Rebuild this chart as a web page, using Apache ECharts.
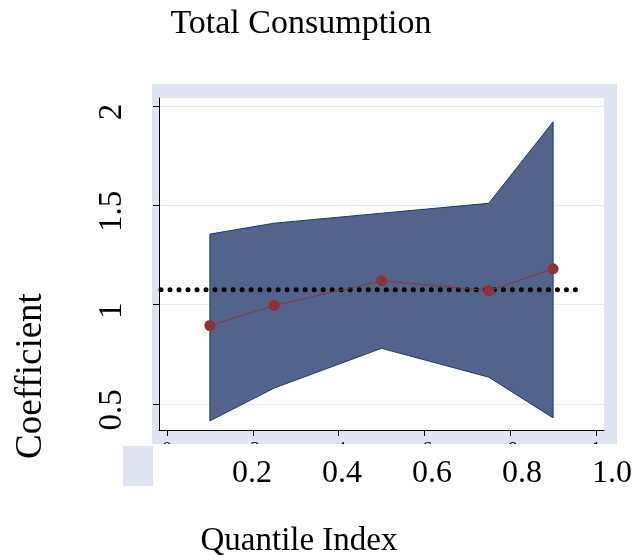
<!DOCTYPE html>
<html>
<head>
<meta charset="utf-8">
<script src="https://cdn.jsdelivr.net/npm/echarts@6/dist/echarts.min.js"></script>
<style>
  html, body { margin: 0; padding: 0; background: #fff; }
  #chart { width: 637px; height: 560px; }
</style>
</head>
<body>
<div id="chart"></div>
<script>
// quantiles and estimates
const quantiles = [0.1, 0.25, 0.5, 0.75, 0.9]
const coef = [0.895, 0.995, 1.12, 1.07, 1.18]
const upper = [1.355, 1.41, 1.46, 1.51, 1.92]
const lower = [0.415, 0.58, 0.78, 0.635, 0.43]
// OLS estimate (dotted line)
const olsX = [-0.035, 0.958]
const olsValue = 1.075
const yTicks = [0.5, 1, 1.5, 2]
const xTicks = [0, 0.2, 0.4, 0.6, 0.8, 1]

const FONT = "'Liberation Serif', 'Times New Roman', serif"
const LIGHT = '#e0e4f0'

let chart = echarts.init(document.getElementById('chart'))
chart.setOption({
  animation: false,
  backgroundColor: '#fff',
  graphic: [
    { type: 'rect', z: -10, shape: { x: 152, y: 84, width: 465, height: 360 }, style: { fill: LIGHT } },
    { type: 'rect', z: 50, shape: { x: 140, y: 444, width: 497, height: 116 }, style: { fill: '#fff' } },
    { type: 'rect', z: 51, shape: { x: 123, y: 446, width: 30, height: 40 }, style: { fill: LIGHT } },
    { type: 'text', z: 51, x: 301, y: 24, style: { text: 'Total Consumption', font: '34px ' + FONT, fill: '#000', align: 'center', verticalAlign: 'middle' } },
    { type: 'text', z: 51, x: 299, y: 541, style: { text: 'Quantile Index', font: '33px ' + FONT, fill: '#000', align: 'center', verticalAlign: 'middle' } },
    { type: 'text', z: 51, x: 31, y: 376, rotation: Math.PI / 2, style: { text: 'Coefficient', font: '37px ' + FONT, fill: '#000', align: 'center', verticalAlign: 'middle' } }
  ],
  grid: [
    { left: 159, right: 33, top: 98, bottom: 130, show: true, backgroundColor: '#fff', borderWidth: 0 },
    { left: 162, width: 450, top: 445, height: 1 }
  ],
  xAxis: [
    {
      type: 'value',
      gridIndex: 0,
      min: -0.0186,
      max: 1.0186,
      axisLine: { show: true, onZero: false, lineStyle: { color: '#000', width: 1 } },
      axisTick: { show: true, length: 6, customValues: xTicks, lineStyle: { color: '#000' } },
      axisLabel: { customValues: xTicks, fontSize: 20, margin: 11, color: '#000', fontFamily: FONT, formatter: v => v === 0 || v === 1 ? String(v) : String(v).replace('0.', '.') },
      splitLine: { show: false }
    },
    {
      type: 'value',
      gridIndex: 1,
      z: 60,
      min: 0,
      max: 1,
      interval: 0.2,
      axisLine: { show: false },
      axisTick: { show: false },
      splitLine: { show: false },
      axisLabel: { fontSize: 32, margin: 12, color: '#000', fontFamily: FONT, formatter: v => v === 0 ? '' : v.toFixed(1) }
    }
  ],
  yAxis: [
    {
      type: 'value',
      gridIndex: 0,
      min: 0.369,
      max: 2.04,
      axisLine: { show: true, onZero: false, lineStyle: { color: '#000', width: 1 } },
      axisTick: { show: true, length: 6, customValues: yTicks, lineStyle: { color: '#000' } },
      axisLabel: { customValues: yTicks, rotate: 90, fontSize: 33, margin: 30, color: '#000', fontFamily: FONT, padding: [0, 12, 0, 0] },
      splitLine: { show: true, lineStyle: { color: '#e3e7f2', width: 1 } }
    },
    { type: 'value', gridIndex: 1, show: false }
  ],
  series: [
    {
      // confidence band
      type: 'custom',
      xAxisIndex: 0,
      yAxisIndex: 0,
      data: [0],
      renderItem: (params, api) => {
        let pts = []
        quantiles.forEach((q, i) => pts.push(api.coord([q, upper[i]])))
        for (let i = quantiles.length - 1; i >= 0; i--) pts.push(api.coord([quantiles[i], lower[i]]))
        return {
          type: 'polygon',
          shape: { points: pts },
          style: { fill: '#52648b', stroke: '#1d3a6c', lineWidth: 1 }
        }
      },
      z: 2
    },
    {
      type: 'line',
      xAxisIndex: 0,
      yAxisIndex: 0,
      data: quantiles.map((q, i) => [q, coef[i]]),
      symbol: 'circle',
      symbolSize: 11,
      itemStyle: { color: '#8f3238' },
      lineStyle: { color: '#8f3238', width: 1 },
      z: 4
    },
    {
      type: 'line',
      xAxisIndex: 0,
      yAxisIndex: 0,
      clip: false,
      data: olsX.map(x => [x, olsValue]),
      symbol: 'none',
      lineStyle: { color: '#000', width: 5, type: [0.01, 9], cap: 'round' },
      z: 3
    }
  ]
})
</script>
</body>
</html>
